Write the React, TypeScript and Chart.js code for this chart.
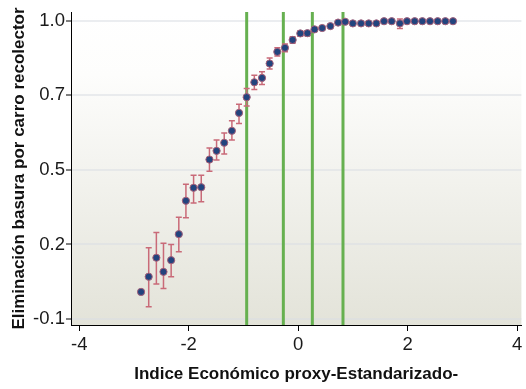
import React, { useEffect, useRef } from "react";
import { Chart, registerables } from "chart.js";

Chart.register(...registerables);

// Data
const xValues = [-2.87, -2.73, -2.59, -2.46, -2.32, -2.18, -2.05, -1.91, -1.77, -1.62, -1.49, -1.35, -1.21, -1.08, -0.94, -0.8, -0.66, -0.52, -0.38, -0.24, -0.1, 0.04, 0.17, 0.3, 0.44, 0.59, 0.73, 0.86, 1.0, 1.15, 1.29, 1.43, 1.57, 1.71, 1.86, 1.99, 2.13, 2.27, 2.41, 2.55, 2.69, 2.83];
const yValues = [0.0, 0.056, 0.126, 0.074, 0.117, 0.213, 0.336, 0.384, 0.386, 0.488, 0.52, 0.55, 0.594, 0.66, 0.718, 0.773, 0.789, 0.842, 0.885, 0.9, 0.929, 0.953, 0.954, 0.968, 0.973, 0.98, 0.993, 0.996, 0.99, 0.99, 0.99, 0.99, 0.998, 0.998, 0.99, 0.998, 0.998, 0.998, 0.998, 0.998, 0.998, 0.998];
const yLow = [-0.008, -0.055, 0.029, 0.013, 0.056, 0.148, 0.273, 0.328, 0.332, 0.445, 0.486, 0.508, 0.56, 0.621, 0.685, 0.746, 0.765, 0.822, 0.87, 0.885, 0.917, 0.943, 0.944, 0.96, 0.966, 0.974, 0.989, 0.993, 0.985, 0.985, 0.986, 0.986, 0.995, 0.995, 0.971, 0.995, 0.996, 0.996, 0.996, 0.996, 0.996, 0.996];
const yHigh = [0.008, 0.163, 0.219, 0.179, 0.175, 0.275, 0.397, 0.43, 0.43, 0.531, 0.56, 0.586, 0.631, 0.692, 0.75, 0.799, 0.812, 0.862, 0.9, 0.914, 0.941, 0.962, 0.963, 0.975, 0.98, 0.986, 0.997, 0.999, 0.995, 0.995, 0.994, 0.994, 1.001, 1.001, 1.006, 1.001, 1.0, 1.0, 1.0, 1.0, 1.0, 1.0];
const cutLines = [-0.94, -0.27, 0.26, 0.82];

const xTickValues = [-4, -2, 0, 2, 4];
const xTickLabels = ["-4", "-2", "0", "2", "4"];
const yTickValues = [-0.1, 0.175, 0.45, 0.725, 1.0];
const yTickLabels = ["-0.1", "0.2", "0.5", "0.7", "1.0"];

const xTitle = "Indice Económico proxy-Estandarizado-";
const yTitle = "Eliminación basura por carro recolector";

const FONT = "'Liberation Sans', Arial, sans-serif";

const bgPlugin = {
  id: "bgGradient",
  beforeDraw(chart: any) {
    const { ctx, chartArea } = chart;
    if (!chartArea) return;
    const { left, top, right, bottom } = chartArea;
    const g = ctx.createLinearGradient(0, top, 0, bottom);
    g.addColorStop(0, "#ffffff");
    g.addColorStop(0.2, "#fdfdfc");
    g.addColorStop(1, "#e3e3d9");
    ctx.save();
    ctx.fillStyle = g;
    ctx.fillRect(left, top, right - left, bottom - top);
    ctx.restore();
  },
};

const overlayPlugin = {
  id: "errorAndCuts",
  beforeDatasetsDraw(chart: any) {
    const { ctx, chartArea, scales } = chart;
    const xs = scales.x;
    const ys = scales.y;
    ctx.save();
    // vertical green cut lines
    ctx.strokeStyle = "#66b050";
    ctx.lineWidth = 3;
    cutLines.forEach((v) => {
      const px = xs.getPixelForValue(v);
      ctx.beginPath();
      ctx.moveTo(px, chartArea.top);
      ctx.lineTo(px, chartArea.bottom);
      ctx.stroke();
    });
    // error bars
    ctx.strokeStyle = "#c96a78";
    ctx.lineWidth = 1.5;
    xValues.forEach((xv, i) => {
      const px = xs.getPixelForValue(xv);
      const p1 = ys.getPixelForValue(yLow[i]);
      const p2 = ys.getPixelForValue(yHigh[i]);
      ctx.beginPath();
      ctx.moveTo(px, p1);
      ctx.lineTo(px, p2);
      ctx.moveTo(px - 3, p1);
      ctx.lineTo(px + 3, p1);
      ctx.moveTo(px - 3, p2);
      ctx.lineTo(px + 3, p2);
      ctx.stroke();
    });
    ctx.restore();
  },
};

export default function App() {
  const ref = useRef<HTMLCanvasElement | null>(null);

  useEffect(() => {
    if (!ref.current) return;
    const chart = new Chart(ref.current, {
      type: "scatter",
      data: {
        datasets: [
          {
            data: xValues.map((x, i) => ({ x, y: yValues[i] })),
            backgroundColor: "#22447e",
            borderColor: "#a4607a",
            borderWidth: 1,
            pointRadius: 3.6,
            pointHoverRadius: 3.6,
          },
        ],
      },
      options: {
        animation: false,
        responsive: false,
        events: [],
        layout: { padding: { top: 12, right: 0, bottom: 0, left: 0 } },
        plugins: {
          legend: { display: false },
          tooltip: { enabled: false },
        },
        scales: {
          x: {
            type: "linear",
            min: -4.15,
            max: 4.08,
            afterBuildTicks: (scale: any) => {
              scale.ticks = xTickValues.map((v) => ({ value: v }));
            },
            afterFit: (scale: any) => {
              scale.height = 64;
              scale.paddingLeft = 0;
              scale.paddingRight = 0;
              if (scale._margins) scale._margins.right = 0;
            },
            ticks: {
              callback: (_v: any, i: number) => xTickLabels[i],
              color: "#1a1a1a",
              font: { family: FONT, size: 18.5 },
              padding: 3,
              maxRotation: 0,
              autoSkip: false,
            },
            grid: {
              drawOnChartArea: false,
              drawTicks: true,
              tickLength: 6,
              tickColor: "#000000",
              tickWidth: 1,
            },
            border: { display: true, color: "#000000", width: 1 },
            title: {
              display: true,
              text: xTitle,
              color: "#111111",
              font: { family: FONT, size: 17, weight: "bold" },
              padding: { top: 0, bottom: 4 },
            },
          },
          y: {
            type: "linear",
            min: -0.122,
            max: 1.032,
            afterBuildTicks: (scale: any) => {
              scale.ticks = yTickValues.map((v) => ({ value: v }));
            },
            afterFit: (scale: any) => {
              scale.width = 71;
              scale.paddingTop = 0;
              scale.paddingBottom = 0;
            },
            ticks: {
              callback: (_v: any, i: number) => yTickLabels[i],
              color: "#1a1a1a",
              font: { family: FONT, size: 18.5 },
              padding: 1,
              autoSkip: false,
            },
            grid: {
              color: "rgba(218,223,228,0.55)",
              lineWidth: 2,
              drawTicks: true,
              tickLength: 5,
              tickColor: "#000000",
              tickWidth: 1,
            },
            border: { display: true, color: "#000000", width: 1 },
            title: {
              display: true,
              text: yTitle,
              color: "#111111",
              font: { family: FONT, size: 17, weight: "bold" },
              padding: { top: 9, bottom: 0 },
            },
          },
        },
      },
      plugins: [bgPlugin, overlayPlugin],
    });
    return () => chart.destroy();
  }, []);

  return (
    <div style={{ position: "absolute", left: 0, top: 0, width: 526, height: 389, background: "#ffffff" }}>
      <canvas ref={ref} width={526} height={389} style={{ display: "block" }} />
    </div>
  );
}
